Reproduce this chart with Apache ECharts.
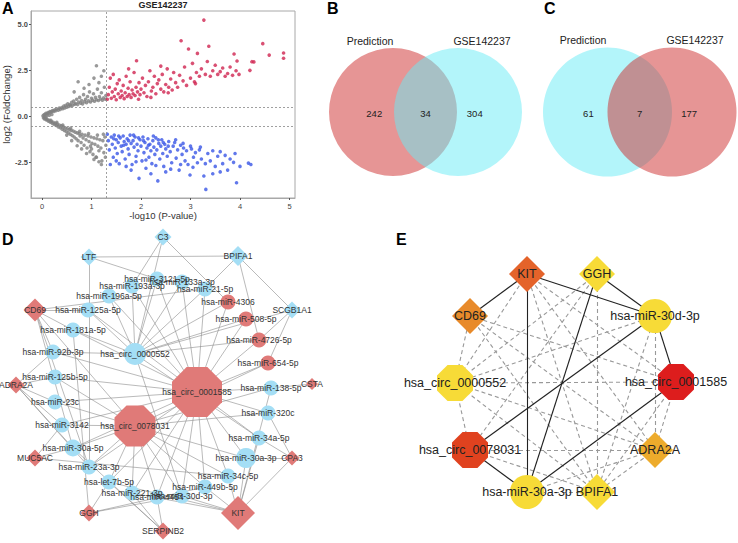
<!DOCTYPE html>
<html>
<head>
<meta charset="utf-8">
<script src="https://cdn.jsdelivr.net/npm/echarts@6/dist/echarts.min.js"></script>
<style>
  html, body { margin: 0; padding: 0; background: #fff; }
  #main { width: 738px; height: 543px; }
</style>
</head>
<body>
<div id="main"></div>
<script>
// ---- A: volcano plot, [-log10(P), log2FC] ----
const volcanoGray = [
  [0.02,0.05],[0.04,0.1],[0.06,0.13],[0.08,0.18],[0.1,0.15],[0.12,0.22],[0.14,0.2],[0.16,0.28],[0.18,0.25],[0.2,0.3],
  [0.22,0.34],[0.24,0.28],[0.26,0.38],[0.28,0.33],[0.3,0.42],[0.33,0.36],[0.35,0.47],[0.37,0.4],[0.4,0.5],[0.42,0.44],
  [0.44,0.58],[0.46,0.48],[0.48,0.62],[0.5,0.52],[0.52,0.7],[0.54,0.56],[0.56,0.66],[0.58,0.6],[0.6,0.78],[0.62,0.62],
  [0.64,0.85],[0.66,0.68],[0.68,0.72],[0.7,0.95],[0.72,0.66],[0.74,0.8],[0.76,1.05],[0.78,0.74],[0.8,0.88],[0.82,0.7],
  [0.84,1.2],[0.86,0.82],[0.88,0.95],[0.9,0.76],[0.92,1.1],[0.94,0.86],[0.96,1.35],[0.98,0.8],[1.0,1.0],[1.02,0.9],
  [1.04,1.25],[1.06,0.84],[1.08,1.05],[1.1,0.92],[1.12,1.5],[1.14,0.88],[1.16,1.1],[1.18,0.96],[1.2,1.3],[1.22,0.9],
  [1.24,1.02],[1.26,1.6],[1.28,0.95],[1.29,1.15],[0.73,1.9],[1.1,2.77],[0.95,1.75],[1.2,2.2],[1.05,2.1],[0.85,1.55],
  [1.25,2.5],[0.65,1.35],[1.15,1.85],[0.05,-0.02],[0.1,0.05],[0.15,0.08],[0.2,0.12],
  [0.03,-0.06],[0.05,-0.12],[0.07,-0.1],[0.09,-0.18],[0.11,-0.15],[0.13,-0.24],[0.15,-0.2],[0.17,-0.3],[0.19,-0.26],[0.21,-0.36],
  [0.23,-0.3],[0.25,-0.42],[0.27,-0.36],[0.29,-0.48],[0.31,-0.4],[0.33,-0.55],[0.35,-0.45],[0.37,-0.6],[0.39,-0.5],[0.41,-0.68],
  [0.43,-0.55],[0.45,-0.74],[0.47,-0.6],[0.49,-0.8],[0.51,-0.64],[0.53,-0.88],[0.55,-0.7],[0.57,-0.95],[0.59,-0.74],[0.61,-1.02],
  [0.63,-0.78],[0.65,-1.1],[0.67,-0.84],[0.69,-1.2],[0.71,-0.88],[0.73,-1.3],[0.75,-0.92],[0.77,-1.05],[0.79,-1.4],[0.81,-0.96],
  [0.83,-1.15],[0.85,-1.55],[0.87,-1.0],[0.89,-1.25],[0.91,-1.7],[0.93,-1.05],[0.95,-1.35],[0.97,-1.9],[0.99,-1.1],[1.01,-1.45],
  [1.03,-2.05],[1.05,-1.15],[1.07,-1.5],[1.09,-2.2],[1.11,-1.2],[1.13,-1.6],[1.15,-1.85],[1.17,-1.25],[1.19,-1.7],[1.21,-2.4],
  [1.23,-1.3],[1.25,-1.95],[1.27,-1.1],[1.29,-1.55],[0.71,-1.58],[1.05,-2.32],[1.1,-2.2],[0.6,-1.3],[0.8,-1.75],[0.9,-2.0],
  [1.2,-2.6],[1.28,-2.2],[0.5,-1.0],[1.0,-1.75],[1.15,-2.45],[0.98,-1.6],[1.24,-0.95],[1.12,-1.0],[0.94,-0.92],[0.76,-0.8],
  [0.58,-0.62],[0.42,-0.45],[0.3,-0.3],[0.18,-0.2],[0.08,-0.06]
];
const volcanoUp = [
  [1.32,0.95],[1.34,1.2],[1.36,1.6],[1.38,2.1],[1.4,1.0],[1.42,1.35],[1.44,2.3],[1.46,1.1],[1.48,1.5],[1.5,0.92],
  [1.52,1.8],[1.54,1.25],[1.56,2.0],[1.58,1.05],[1.6,1.4],[1.62,1.15],[1.64,1.7],[1.66,0.98],[1.68,1.3],[1.7,2.2],
  [1.72,1.1],[1.74,1.55],[1.76,1.2],[1.78,1.9],[1.8,1.05],[1.82,1.45],[1.84,1.25],[1.86,2.4],[1.88,1.15],[1.9,1.6],
  [1.91,3.04],[1.93,1.35],[1.96,1.85],[1.98,1.2],[2.0,1.5],[2.03,2.1],[2.06,1.3],[2.09,1.7],[2.12,1.1],[2.15,1.9],
  [2.18,2.5],[2.21,1.4],[2.24,1.6],[2.27,2.2],[2.3,1.25],[2.33,1.8],[2.36,2.0],[2.4,1.5],[2.43,2.3],[2.46,1.35],
  [2.5,1.75],[2.53,2.6],[2.56,1.6],[2.6,2.05],[2.63,1.45],[2.66,2.4],[2.7,1.85],[2.74,1.6],[2.78,2.25],[2.81,4.13],
  [2.85,1.95],[2.88,2.7],[2.92,1.7],[2.96,3.68],[3.0,2.1],[3.04,2.9],[3.08,1.9],[3.12,2.4],[3.14,3.44],[3.18,2.2],
  [3.22,2.6],[3.27,5.25],[3.3,2.3],[3.34,3.0],[3.37,3.83],[3.4,2.2],[3.45,2.5],[3.5,2.8],[3.55,2.3],[3.6,2.45],
  [3.65,2.65],[3.7,2.2],[3.75,2.35],[3.8,2.7],[3.85,2.25],[3.88,3.41],[3.92,2.5],[3.94,3.03],[3.98,2.3],[4.2,2.52],
  [4.24,2.99],[4.28,2.98],[4.46,3.97],[4.59,3.35],[4.88,3.46],[4.88,3.18],[2.2,1.05],[1.95,0.95],[2.55,1.3],[3.1,1.8],
  [2.4,2.75],[1.75,2.6]
];
const volcanoDown = [
  [1.32,-0.95],[1.34,-1.3],[1.36,-1.8],[1.38,-2.6],[1.4,-1.1],[1.42,-1.5],[1.44,-2.2],[1.46,-1.0],[1.48,-1.7],[1.5,-1.25],
  [1.52,-2.0],[1.54,-1.4],[1.56,-2.55],[1.58,-1.15],[1.6,-1.6],[1.62,-1.9],[1.64,-1.05],[1.66,-1.35],[1.68,-2.3],[1.7,-1.5],
  [1.72,-1.2],[1.74,-1.75],[1.76,-2.05],[1.78,-1.0],[1.8,-1.45],[1.82,-2.6],[1.84,-1.3],[1.86,-1.65],[1.88,-1.1],[1.9,-2.15],
  [1.92,-1.5],[1.94,-1.85],[1.96,-3.35],[1.98,-1.25],[2.0,-1.6],[2.02,-2.4],[2.04,-1.1],[2.06,-1.95],[2.08,-1.4],[2.1,-2.8],
  [2.12,-1.7],[2.14,-1.2],[2.16,-2.2],[2.18,-1.5],[2.2,-1.85],[2.22,-2.55],[2.24,-1.3],[2.26,-1.65],[2.28,-2.05],[2.3,-1.15],
  [2.32,-1.8],[2.34,-3.49],[2.36,-1.45],[2.38,-2.3],[2.4,-1.6],[2.42,-1.25],[2.44,-2.0],[2.46,-2.7],[2.48,-1.5],[2.5,-1.75],
  [2.53,-2.15],[2.56,-1.35],[2.59,-1.9],[2.62,-2.5],[2.65,-1.6],[2.68,-1.4],[2.71,-2.25],[2.74,-1.8],[2.77,-2.9],[2.8,-1.55],
  [2.83,-2.05],[2.86,-1.7],[2.89,-2.4],[2.92,-1.85],[2.95,-2.6],[2.99,-3.17],[3.02,-1.75],[3.06,-2.2],[3.1,-1.95],[3.14,-2.5],
  [3.18,-1.8],[3.22,-2.3],[3.27,-3.22],[3.31,-3.95],[3.35,-2.0],[3.4,-2.4],[3.45,-1.85],[3.5,-2.7],[3.55,-2.15],[3.6,-1.9],
  [3.65,-2.55],[3.7,-2.1],[3.75,-2.9],[3.8,-2.3],[3.87,-2.48],[3.93,-3.59],[3.9,-2.0],[4.0,-2.7],[4.17,-2.52],[4.22,-2.6],
  [1.45,-1.2],[1.55,-1.05],[1.65,-1.55],[1.75,-1.3],[1.85,-1.0],[1.95,-1.15],[2.05,-1.3],[2.15,-1.55],[2.25,-1.05],[2.35,-1.25],
  [2.45,-1.4],[2.55,-1.6],[2.7,-1.25],[2.85,-1.45],[3.0,-1.6],[3.2,-1.65],[1.5,-2.4],[1.7,-2.7],[1.9,-2.45],[2.1,-2.35],
  [2.3,-2.65],[2.6,-2.85],[2.8,-2.6],[3.05,-2.75],[3.3,-2.55],[3.6,-3.0],[3.45,-3.1],[2.5,-3.0],[2.2,-3.1],[1.8,-2.9]
];
const volcanoXTicks = [0, 1, 2, 3, 4, 5];
const volcanoYTicks = [-2.5, 0, 2.5, 5];
const pCut = 1.3, fcCut = 0.5;

// ---- B, C: venn counts [left only, both, right only] ----
const vennBSets = ['Prediction', 'GSE142237'];
const vennBCounts = [242, 34, 304];
const vennCSets = ['Prediction', 'GSE142237'];
const vennCCounts = [61, 7, 177];

// ---- D: ceRNA network, [name, kind, x, y] (layout in px) ----
const dNodes = [
  ['C3','geneDown',163,237], ['LTF','geneDown',89,257], ['BPIFA1','geneDown',238,256], ['SCGB1A1','geneDown',292,310],
  ['CD69','geneUp',35,310], ['ADRA2A','geneUp',16,385], ['MUC5AC','geneUp',35,458], ['GGH','geneUp',89,513],
  ['SERPINB2','geneUp',163,531], ['KIT','geneUp',238,513], ['CPA3','geneUp',292,458], ['CSTA','geneUp',312,384],
  ['hsa_circ_0001585','circUp',197,392], ['hsa_circ_0078031','circUp',135,426], ['hsa_circ_0000552','circDown',135,354],
  ['hsa-miR-3121-5p','mirDown',157,279], ['hsa-miR-193a-3p','mirDown',132,286], ['hsa-miR-133a-3p','mirDown',182,282],
  ['hsa-miR-21-5p','mirDown',205,289], ['hsa-miR-196a-5p','mirDown',109,296], ['hsa-miR-125a-5p','mirDown',88,310],
  ['hsa-miR-181a-5p','mirDown',73,330], ['hsa-miR-92b-3p','mirDown',53,352], ['hsa-miR-125b-5p','mirDown',55,377],
  ['hsa-miR-23c','mirDown',55,402], ['hsa-miR-3142','mirDown',62,425], ['hsa-miR-30a-5p','mirDown',73,448],
  ['hsa-miR-23a-3p','mirDown',89,467], ['hsa-let-7b-5p','mirDown',109,482], ['hsa-miR-221-3p','mirDown',132,493],
  ['hsa-miR-4454','mirDown',157,497], ['hsa-miR-30d-3p','mirDown',182,496], ['hsa-miR-449b-5p','mirDown',205,487],
  ['hsa-miR-34c-5p','mirDown',228,476], ['hsa-miR-30a-3p','mirDown',246,458], ['hsa-miR-34a-5p','mirDown',259,438],
  ['hsa-miR-320c','mirDown',268,413], ['hsa-miR-138-5p','mirDown',271,388],
  ['hsa-miR-4306','mirUp',228,302], ['hsa-miR-508-5p','mirUp',246,319], ['hsa-miR-4726-5p','mirUp',259,340],
  ['hsa-miR-654-5p','mirUp',268,363]
];
const dEdges = [
  ['LTF','BPIFA1'], ['LTF','hsa-miR-3121-5p'], ['LTF','hsa-miR-23a-3p'], ['C3','hsa-miR-193a-3p'], ['C3','hsa_circ_0000552'],
  ['C3','hsa-miR-4306'], ['BPIFA1','hsa-miR-21-5p'], ['BPIFA1','SCGB1A1'], ['BPIFA1','hsa-miR-4726-5p'],
  ['SCGB1A1','hsa-miR-654-5p'], ['SCGB1A1','hsa_circ_0000552'], ['SCGB1A1','hsa-miR-4726-5p'],
  ['CD69','hsa-miR-125a-5p'], ['CD69','hsa-miR-21-5p'], ['CD69','hsa-miR-181a-5p'], ['CD69','hsa-miR-92b-3p'],
  ['CD69','hsa-miR-30a-5p'], ['CD69','hsa-miR-23a-3p'], ['CD69','hsa_circ_0078031'],
  ['ADRA2A','hsa-miR-125b-5p'], ['ADRA2A','hsa-miR-23c'], ['ADRA2A','hsa-miR-3142'], ['ADRA2A','hsa-miR-30a-5p'],
  ['ADRA2A','hsa-miR-23a-3p'], ['ADRA2A','hsa-miR-92b-3p'],
  ['MUC5AC','hsa-miR-30a-5p'], ['MUC5AC','hsa-miR-34c-5p'], ['MUC5AC','hsa-miR-3142'],
  ['GGH','hsa-let-7b-5p'], ['GGH','hsa-miR-30d-3p'], ['GGH','hsa-miR-449b-5p'], ['GGH','hsa-miR-181a-5p'],
  ['SERPINB2','hsa-miR-221-3p'], ['SERPINB2','hsa-let-7b-5p'], ['SERPINB2','hsa-miR-30a-5p'], ['SERPINB2','hsa-miR-4454'],
  ['KIT','hsa-miR-30a-3p'], ['KIT','hsa-miR-34c-5p'], ['KIT','hsa-miR-449b-5p'], ['KIT','hsa-miR-30d-3p'],
  ['KIT','hsa-miR-221-3p'], ['KIT','hsa-let-7b-5p'], ['KIT','hsa-miR-34a-5p'], ['KIT','hsa-miR-138-5p'], ['KIT','CPA3'],
  ['CPA3','hsa-miR-34a-5p'], ['CPA3','hsa-miR-30a-3p'], ['CPA3','hsa-miR-320c'], ['CSTA','hsa-miR-138-5p'],
  ['hsa_circ_0001585','hsa-miR-4306'], ['hsa_circ_0001585','hsa-miR-508-5p'], ['hsa_circ_0001585','hsa-miR-4726-5p'],
  ['hsa_circ_0001585','hsa-miR-654-5p'], ['hsa_circ_0001585','hsa-miR-138-5p'], ['hsa_circ_0001585','hsa-miR-320c'],
  ['hsa_circ_0001585','hsa-miR-34a-5p'], ['hsa_circ_0001585','hsa-miR-30a-3p'], ['hsa_circ_0001585','hsa-miR-34c-5p'],
  ['hsa_circ_0001585','hsa-miR-449b-5p'], ['hsa_circ_0001585','hsa-miR-30d-3p'], ['hsa_circ_0001585','hsa-miR-4454'],
  ['hsa_circ_0001585','hsa-miR-221-3p'], ['hsa_circ_0001585','hsa-let-7b-5p'], ['hsa_circ_0001585','hsa-miR-23a-3p'],
  ['hsa_circ_0001585','hsa-miR-30a-5p'], ['hsa_circ_0001585','hsa-miR-3142'], ['hsa_circ_0001585','hsa-miR-23c'],
  ['hsa_circ_0001585','hsa-miR-125b-5p'], ['hsa_circ_0001585','hsa-miR-92b-3p'], ['hsa_circ_0001585','hsa-miR-181a-5p'],
  ['hsa_circ_0001585','hsa-miR-125a-5p'], ['hsa_circ_0001585','hsa-miR-196a-5p'], ['hsa_circ_0001585','hsa-miR-193a-3p'],
  ['hsa_circ_0001585','hsa-miR-3121-5p'], ['hsa_circ_0001585','hsa-miR-133a-3p'], ['hsa_circ_0001585','hsa-miR-21-5p'],
  ['hsa_circ_0078031','hsa-miR-30a-5p'], ['hsa_circ_0078031','hsa-miR-3142'], ['hsa_circ_0078031','hsa-miR-23c'],
  ['hsa_circ_0078031','hsa-miR-125b-5p'], ['hsa_circ_0078031','hsa-miR-30a-3p'], ['hsa_circ_0078031','hsa-miR-34c-5p'],
  ['hsa_circ_0078031','hsa-miR-449b-5p'], ['hsa_circ_0078031','hsa-miR-30d-3p'], ['hsa_circ_0078031','hsa-miR-4454'],
  ['hsa_circ_0078031','hsa-miR-221-3p'], ['hsa_circ_0078031','hsa-let-7b-5p'], ['hsa_circ_0078031','hsa-miR-23a-3p'],
  ['hsa_circ_0078031','hsa-miR-320c'], ['hsa_circ_0078031','hsa-miR-138-5p'], ['hsa_circ_0078031','hsa-miR-654-5p'],
  ['hsa_circ_0000552','hsa-miR-3121-5p'], ['hsa_circ_0000552','hsa-miR-133a-3p'], ['hsa_circ_0000552','hsa-miR-21-5p'],
  ['hsa_circ_0000552','hsa-miR-196a-5p'], ['hsa_circ_0000552','hsa-miR-193a-3p'], ['hsa_circ_0000552','hsa-miR-125a-5p'],
  ['hsa_circ_0000552','hsa-miR-181a-5p'], ['hsa_circ_0000552','hsa-miR-92b-3p'], ['hsa_circ_0000552','hsa-miR-4306'],
  ['hsa_circ_0000552','hsa-miR-508-5p'], ['hsa_circ_0000552','hsa-miR-4726-5p'], ['hsa_circ_0000552','hsa-miR-30d-3p'],
  ['hsa_circ_0000552','hsa-miR-34a-5p']
];

// ---- E: hub network, [name, shape, colour rank, x, y] ----
const eNodes = [
  ['KIT','diamond',2,527,274], ['GGH','diamond',0,597,274], ['CD69','diamond',3,470,316],
  ['hsa-miR-30d-3p','circle',0,655,316], ['hsa_circ_0000552','octagon',0,455,383],
  ['hsa_circ_0001585','octagon',5,676,382], ['hsa_circ_0078031','octagon',4,470,450],
  ['ADRA2A','diamond',1,655,450], ['hsa-miR-30a-3p','circle',0,527,492], ['BPIFA1','diamond',0,597,492]
];
const eSolid = [
  ['KIT','CD69'], ['KIT','hsa-miR-30d-3p'], ['KIT','hsa-miR-30a-3p'], ['GGH','hsa-miR-30d-3p'], ['GGH','hsa-miR-30a-3p'],
  ['hsa-miR-30d-3p','hsa_circ_0001585'], ['hsa-miR-30d-3p','hsa_circ_0078031'], ['hsa_circ_0001585','hsa-miR-30a-3p'],
  ['hsa_circ_0078031','hsa-miR-30a-3p']
];
const eDashed = [
  ['KIT','hsa_circ_0000552'], ['KIT','ADRA2A'], ['KIT','BPIFA1'], ['GGH','hsa_circ_0000552'], ['GGH','BPIFA1'],
  ['GGH','hsa_circ_0078031'], ['CD69','hsa_circ_0000552'], ['CD69','ADRA2A'], ['CD69','BPIFA1'], ['CD69','hsa_circ_0001585'],
  ['hsa-miR-30d-3p','hsa_circ_0000552'], ['hsa-miR-30d-3p','ADRA2A'], ['hsa-miR-30d-3p','BPIFA1'],
  ['hsa_circ_0000552','hsa_circ_0001585'], ['hsa_circ_0000552','hsa_circ_0078031'], ['hsa_circ_0000552','ADRA2A'],
  ['hsa_circ_0000552','BPIFA1'], ['hsa_circ_0001585','ADRA2A'], ['hsa_circ_0001585','BPIFA1'],
  ['hsa_circ_0078031','ADRA2A'], ['hsa_circ_0078031','BPIFA1'], ['hsa-miR-30a-3p','BPIFA1'], ['hsa-miR-30a-3p','ADRA2A'],
  ['ADRA2A','BPIFA1'], ['KIT','hsa_circ_0001585']
];

const FONT = 'Liberation Sans, Arial, sans-serif';
const octagon = 'path://M29.3,0L70.7,0L100,29.3L100,70.7L70.7,100L29.3,100L0,70.7L0,29.3Z';
const RED = 'rgba(205,43,43,0.5)', CYAN = 'rgba(103,235,245,0.5)';

// venn geometry (px)
const vennB = { cy: 112, r: 64, cx: [393, 458], fills: [RED, CYAN], labelY: 41, labelX: [370, 482] };
const vennC = { cy: 112, r: 64.5, cx: [607.5, 672], fills: [CYAN, RED], labelY: 40, labelX: [583, 695] };

function vennItems(v, sets, counts) {
  const circles = v.cx.map((x, i) => ({ type: 'circle', x: x, y: v.cy, r: v.r, fill: v.fills[i] }));
  const mid = (v.cx[0] + v.cx[1]) / 2;
  const texts = [
    { type: 'text', x: v.labelX[0], y: v.labelY, text: sets[0], size: 10.5 },
    { type: 'text', x: v.labelX[1], y: v.labelY, text: sets[1], size: 10.5 },
    { type: 'text', x: (v.cx[0] - v.r + mid) / 2 - 3, y: v.cy + 1, text: String(counts[0]), size: 9.5 },
    { type: 'text', x: mid, y: v.cy + 1, text: String(counts[1]), size: 9.5 },
    { type: 'text', x: (v.cx[1] + v.r + mid) / 2 + 1, y: v.cy + 1, text: String(counts[2]), size: 9.5 }
  ];
  return circles.concat(texts);
}
const vennAll = vennItems(vennB, vennBSets, vennBCounts).concat(vennItems(vennC, vennCSets, vennCCounts));

// D styles
const dColor = { geneUp: '#e07a78', circUp: '#e07a78', mirUp: '#e07a78', geneDown: '#a4def5', circDown: '#a4def5', mirDown: '#a4def5' };
const dSize = { KIT: 34, CD69: 23, BPIFA1: 20, CSTA: 12, CPA3: 15, 'hsa_circ_0001585': 50, 'hsa_circ_0078031': 41,
  'hsa_circ_0000552': 22, 'hsa-miR-30a-3p': 20, 'hsa-miR-30a-5p': 17 };
function dSymbol(kind) {
  if (kind.indexOf('gene') === 0) return 'diamond';
  if (kind === 'circUp') return octagon;
  return 'circle';
}
const dData = dNodes.map(n => ({
  name: n[0], value: [n[2], n[3]],
  symbol: dSymbol(n[1]),
  symbolSize: dSize[n[0]] || (n[1].indexOf('gene') === 0 ? 17 : 15),
  itemStyle: { color: dColor[n[1]] }
}));
const dLinks = dEdges.map(e => ({ source: e[0], target: e[1] }));

// E styles
const eColors = ['#f7db37', '#edab2c', '#e4632a', '#e88a2a', '#e0421f', '#dd1d1d'];
const eData = eNodes.map(n => ({
  name: n[0], value: [n[3], n[4]],
  symbol: n[1] === 'octagon' ? octagon : n[1],
  symbolSize: n[1] === 'circle' ? 34 : 36,
  itemStyle: { color: eColors[n[2]] }
}));
const eLinks = eDashed.map(e => ({ source: e[0], target: e[1], lineStyle: { color: '#999', type: [4, 3], width: 1.1, opacity: 1 } }))
  .concat(eSolid.map(e => ({ source: e[0], target: e[1], lineStyle: { color: '#222', type: 'solid', width: 1.1, opacity: 1 } })));

const letter = (t, x, y) => ({ text: t, left: x, top: y, padding: 0,
  textStyle: { fontSize: 16, fontWeight: 'bold', color: '#000', fontFamily: FONT } });

const chart = echarts.init(document.getElementById('main'), null, { renderer: 'svg' });
chart.setOption({
  animation: false,
  backgroundColor: '#fff',
  title: [
    letter('A', 2, 0), letter('B', 327, 0), letter('C', 544, 0), letter('D', 2, 231), letter('E', 396, 231),
    { text: 'GSE142237', left: 163, top: 0, textAlign: 'center', padding: 0,
      textStyle: { fontSize: 9, fontWeight: 'bold', color: '#222', fontFamily: FONT } }
  ],
  grid: [
    { left: 31, top: 11, width: 264, height: 187, show: true, borderColor: '#a8a8a8', borderWidth: 1, backgroundColor: 'transparent' },
    { left: 0, top: 0, width: 738, height: 543 }
  ],
  xAxis: [
    { gridIndex: 0, type: 'value', min: -0.222, max: 5.111,
      name: '-log10 (P-value)', nameLocation: 'middle', nameGap: 12,
      nameTextStyle: { fontSize: 9.5, color: '#333', fontFamily: FONT },
      axisLine: { show: true, onZero: false, lineStyle: { color: '#a8a8a8' } },
      axisTick: { show: true, length: 2, customValues: volcanoXTicks, lineStyle: { color: '#555' } },
      axisLabel: { customValues: volcanoXTicks, fontSize: 7.5, color: '#444', margin: 4, fontFamily: FONT },
      splitLine: { show: false } },
    { gridIndex: 1, type: 'value', min: 0, max: 738, show: false }
  ],
  yAxis: [
    { gridIndex: 0, type: 'value', min: -4.418, max: 5.745,
      name: 'log2 (FoldChange)', nameLocation: 'middle', nameGap: 17,
      nameTextStyle: { fontSize: 9.5, color: '#333', fontFamily: FONT },
      axisLine: { show: true, onZero: false, lineStyle: { color: '#a8a8a8' } },
      axisTick: { show: true, length: 2, customValues: volcanoYTicks, lineStyle: { color: '#555' } },
      axisLabel: { customValues: volcanoYTicks, formatter: v => v.toFixed(1), fontSize: 7.5, fontWeight: 'bold',
        color: '#4a4a4a', margin: 3, fontFamily: FONT },
      splitLine: { show: false } },
    { gridIndex: 1, type: 'value', min: 0, max: 543, inverse: true, show: false }
  ],
  series: [
    { type: 'scatter', xAxisIndex: 0, yAxisIndex: 0, data: volcanoGray, symbolSize: 3.6,
      itemStyle: { color: '#808080' }, silent: true,
      markLine: { silent: true, symbol: 'none', label: { show: false },
        lineStyle: { type: [2, 2], color: '#888', width: 0.8 },
        data: [{ xAxis: pCut }, { yAxis: fcCut }, { yAxis: -fcCut }] } },
    { type: 'scatter', xAxisIndex: 0, yAxisIndex: 0, data: volcanoUp, symbolSize: 3.6,
      itemStyle: { color: '#cf2450' }, silent: true },
    { type: 'scatter', xAxisIndex: 0, yAxisIndex: 0, data: volcanoDown, symbolSize: 3.6,
      itemStyle: { color: '#3a56e6' }, silent: true },
    { type: 'custom', xAxisIndex: 1, yAxisIndex: 1, silent: true,
      data: vennAll.map((d, i) => [d.x, d.y, i]),
      renderItem: function (params, api) {
        const d = vennAll[api.value(2)];
        const c = api.coord([api.value(0), api.value(1)]);
        if (d.type === 'circle') {
          return { type: 'circle', shape: { cx: c[0], cy: c[1], r: api.size([d.r, 0])[0] }, style: { fill: d.fill } };
        }
        return { type: 'text', x: c[0], y: c[1],
          style: { text: d.text, fill: '#222', fontSize: d.size, fontFamily: FONT, align: 'center', verticalAlign: 'middle' } };
      } },
    { type: 'graph', coordinateSystem: 'cartesian2d', xAxisIndex: 1, yAxisIndex: 1, silent: true,
      data: dData, links: dLinks,
      lineStyle: { color: '#8c8c8c', width: 0.6, opacity: 1 },
      label: { show: true, position: 'inside', fontSize: 8.5, color: '#333', fontFamily: FONT } },
    { type: 'graph', coordinateSystem: 'cartesian2d', xAxisIndex: 1, yAxisIndex: 1, silent: true,
      data: eData, links: eLinks,
      lineStyle: { opacity: 1 },
      label: { show: true, position: 'inside', fontSize: 12.5, color: '#222', fontFamily: FONT } }
  ]
});
</script>
</body>
</html>
